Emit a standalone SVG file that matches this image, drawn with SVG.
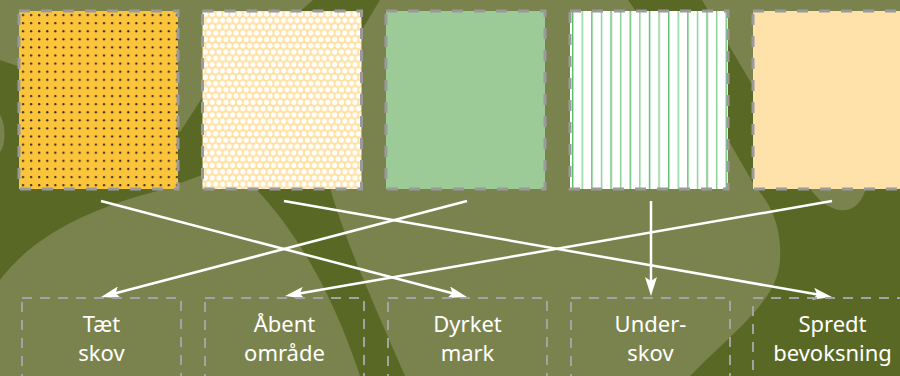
<svg xmlns="http://www.w3.org/2000/svg" width="900" height="376" viewBox="0 0 900 376">
  <style>
    .src { stroke: #9a9a9a; stroke-width: 3; stroke-dasharray: 11 11; }
    .dst { fill: none; stroke: #a3a3a3; stroke-width: 2; stroke-dasharray: 10 8; }
    .lbl { font-family: "Noto Sans", "Open Sans", sans-serif; font-size: 22px; fill: #ffffff; text-anchor: middle; }
    .arr { stroke: #ffffff; stroke-width: 2.5; fill: none; marker-end: url(#head); }
  </style>
  <defs>
    <marker id="head" viewBox="0 0 19 12" refX="9" refY="6" markerWidth="19" markerHeight="12" markerUnits="userSpaceOnUse" orient="auto">
      <path d="M0,0 L19,6 L0,12 L4,6 Z" fill="#ffffff"/>
    </marker>
    <pattern id="dots" patternUnits="userSpaceOnUse" x="21" y="13" width="8.1" height="8.1">
      <rect width="8.1" height="8.1" fill="#fcc43b"/>
      <circle cx="2" cy="2" r="1.1" fill="#2e2a1e"/>
    </pattern>
    <pattern id="hex" patternUnits="userSpaceOnUse" x="202" y="11" width="6.8" height="12.6">
      <rect width="6.8" height="12.6" fill="#ffe0a0"/>
      <circle cx="3.4" cy="3.15" r="2.6" fill="#ffffff"/>
      <circle cx="0" cy="9.45" r="2.6" fill="#ffffff"/>
      <circle cx="6.8" cy="9.45" r="2.6" fill="#ffffff"/>
    </pattern>
    <pattern id="stripes" patternUnits="userSpaceOnUse" x="572" y="0" width="19.2" height="10">
      <rect width="19.2" height="10" fill="#ffffff"/>
      <rect x="0" y="0" width="1.4" height="10" fill="#5cbd6a"/>
      <rect x="9.6" y="0" width="1.4" height="10" fill="#86d094"/>
    </pattern>
  </defs>

  <g id="background">
    <rect width="900" height="376" fill="#7a834e"/>
    <path d="M0,60 C60,80 150,115 180,132 L202,98 L313,0 L380,0 L362,30 C340,100 322,160 330,188 C345,240 372,300 405,376 L360,376 C335,300 300,235 255,188 L230,150 L202,175 C180,183 165,189 150,193 C80,212 30,240 0,280 Z" fill="#5a6825"/>
    <path d="M0,115 C6,125 6,145 0,152 Z" fill="#7a834e"/>
    <path d="M628,0 L702,0 L760,98 L900,98 L900,376 L690,376 C735,330 778,300 780,260 C782,230 772,205 757,189 L753,183 L730,143 Z" fill="#5a6825"/>
    <path d="M805,180 C815,200 835,215 850,209 C860,205 865,195 868,180 Z" fill="#7a834e"/>
  </g>

  <g id="src-dense-forest"><rect class="src" x="19" y="11" width="159" height="178" fill="url(#dots)"/></g>
  <g id="src-open-area"><rect class="src" x="202.5" y="11" width="159" height="178" fill="url(#hex)"/></g>
  <g id="src-cultivated"><rect class="src" x="386" y="11" width="159" height="178" fill="#9dcb98"/></g>
  <g id="src-undergrowth"><rect class="src" x="570" y="11" width="158" height="178" fill="url(#stripes)"/></g>
  <g id="src-scattered"><rect class="src" x="753" y="11" width="170" height="178" fill="#ffe2aa"/></g>

  <g id="connectors">
    <line class="arr" x1="101" y1="201" x2="457.3" y2="294.5"/>
    <line class="arr" x1="284" y1="201" x2="822.1" y2="295.3"/>
    <line class="arr" x1="467" y1="201" x2="110.7" y2="294.5"/>
    <line class="arr" x1="651" y1="201" x2="651" y2="286"/>
    <line class="arr" x1="832" y1="201" x2="294.9" y2="294.3"/>
  </g>

  <g id="dst-taet-skov">
    <rect class="dst" x="22" y="298" width="159" height="100"/>
    <text class="lbl" x="101.5" y="332">Tæt</text>
    <text class="lbl" x="101.5" y="361">skov</text>
  </g>
  <g id="dst-aabent-omraade">
    <rect class="dst" x="205" y="298" width="159" height="100"/>
    <text class="lbl" x="284.5" y="332">Åbent</text>
    <text class="lbl" x="284.5" y="361">område</text>
  </g>
  <g id="dst-dyrket-mark">
    <rect class="dst" x="388" y="298" width="159" height="100"/>
    <text class="lbl" x="467.5" y="332">Dyrket</text>
    <text class="lbl" x="467.5" y="361">mark</text>
  </g>
  <g id="dst-underskov">
    <rect class="dst" x="571" y="298" width="159" height="100"/>
    <text class="lbl" x="650.5" y="332">Under-</text>
    <text class="lbl" x="650.5" y="361">skov</text>
  </g>
  <g id="dst-spredt-bevoksning">
    <rect class="dst" x="753" y="298" width="170" height="100"/>
    <text class="lbl" x="832.5" y="332">Spredt</text>
    <text class="lbl" x="832.5" y="361">bevoksning</text>
  </g>
</svg>
